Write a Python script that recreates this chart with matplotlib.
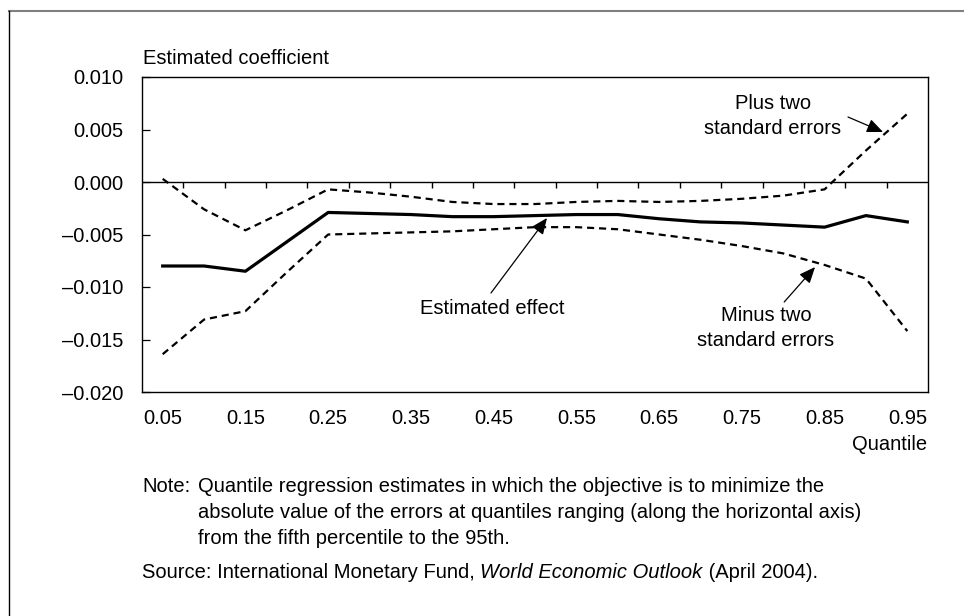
import numpy as np
import matplotlib
matplotlib.use('Agg')
import matplotlib.pyplot as plt
from matplotlib.lines import Line2D
from matplotlib.transforms import offset_copy

plt.rcParams['font.family'] = ['Liberation Sans', 'DejaVu Sans']
FS = 14.5

quantiles = [0.05, 0.10, 0.15, 0.20, 0.25, 0.30, 0.35, 0.40, 0.45, 0.50,
             0.55, 0.60, 0.65, 0.70, 0.75, 0.80, 0.85, 0.90, 0.95]
effect = [-0.0080, -0.0080, -0.0085, -0.0057, -0.0029, -0.0030, -0.0031, -0.0033, -0.0033, -0.0032,
          -0.0031, -0.0031, -0.0035, -0.0038, -0.0039, -0.0041, -0.0043, -0.0032, -0.0038]
plus_two = [0.0003, -0.0026, -0.0046, -0.0027, -0.0007, -0.0010, -0.0014, -0.0019, -0.0021, -0.0021,
            -0.0019, -0.0018, -0.0019, -0.0018, -0.0016, -0.0013, -0.0007, 0.0030, 0.0065]
minus_two = [-0.0164, -0.0131, -0.0123, -0.0086, -0.0050, -0.0049, -0.0048, -0.0047, -0.0045, -0.0043,
             -0.0043, -0.0045, -0.0050, -0.0055, -0.0061, -0.0068, -0.0079, -0.0092, -0.0142]
x_labels = ['0.05', '0.15', '0.25', '0.35', '0.45', '0.55', '0.65', '0.75', '0.85', '0.95']
y_ticks = [0.010, 0.005, 0.000, -0.005, -0.010, -0.015, -0.020]

fig = plt.figure(figsize=(9.64, 6.16), dpi=100)
ax = fig.add_axes([142 / 964, 224 / 616, 786 / 964, 315 / 616])

q = np.array(quantiles)
ax.plot(q, effect, color='black', lw=2.3, solid_joinstyle='round')
for series in (plus_two, minus_two):
    ax.plot(q, series, color='black', lw=1.6, dashes=(3.2, 2.2))

# zero line with category boundary ticks
ax.axhline(0, color='black', lw=1.0)
bounds = (q[:-1] + q[1:]) / 2
ax.vlines(bounds, -0.0006, 0, color='black', lw=1.0)

ax.set_xlim(0.025, 0.975)
ax.set_ylim(-0.020, 0.010)
ax.set_xticks(q[::2])
ax.set_xticklabels(x_labels, fontsize=FS)
ax.tick_params(axis='x', length=0, pad=12)
ax.set_yticks(y_ticks)
ax.set_yticklabels([f'{v:.3f}'.replace('-', '\u2013') if v != 0 else '0.000' for v in y_ticks],
                   fontsize=FS)
ax.tick_params(axis='y', direction='in', length=5.5, width=0.9, pad=13.5)
for s in ax.spines.values():
    s.set_linewidth(1.0)

# annotations
ax.text(0.7877, 0.0063, 'Plus two\nstandard errors', ha='center', va='center',
        fontsize=FS, linespacing=1.42)
ax.text(0.448, -0.0120, 'Estimated effect', ha='center', va='center', fontsize=FS)
ax.text(0.7792, -0.0139, 'Minus two\nstandard errors', ha='center', va='center',
        fontsize=FS, linespacing=1.42)
arrow = dict(arrowstyle='-|>,head_length=0.7,head_width=0.3', color='black',
             lw=0.9, mutation_scale=14, shrinkA=0, shrinkB=0)
ax.annotate('', xy=(0.9207, 0.00476), xytext=(0.8783, 0.00619), arrowprops=arrow)
ax.annotate('', xy=(0.5145, -0.00343), xytext=(0.4468, -0.01057), arrowprops=arrow)
ax.annotate('', xy=(0.8385, -0.0081), xytext=(0.8012, -0.01143), arrowprops=arrow)

# labels and notes
H = 616
fig.text(143 / 964, 1 - 58 / H, 'Estimated coefficient', fontsize=FS, va='center')
fig.text(927 / 964, 1 - 445 / H, 'Quantile', fontsize=FS, va='center', ha='right')
fig.text(142 / 964, 1 - 486 / H, 'Note:', fontsize=FS, va='center')
fig.text(198 / 964, 1 - 486 / H,
         'Quantile regression estimates in which the objective is to minimize the',
         fontsize=FS, va='center')
fig.text(198 / 964, 1 - 512 / H,
         'absolute value of the errors at quantiles ranging (along the horizontal axis)',
         fontsize=FS, va='center')
fig.text(198 / 964, 1 - 538 / H, 'from the fifth percentile to the 95th.',
         fontsize=FS, va='center')

# source line with italic title, pieces placed one after another
renderer = fig.canvas.get_renderer()
x_px = 142
for piece, style in [('Source: International Monetary Fund, ', 'normal'),
                     ('World Economic Outlook', 'italic'),
                     (' (April 2004).', 'normal')]:
    t = fig.text(x_px / 964, 1 - 573 / H, piece, fontsize=FS, va='center', style=style)
    x_px = t.get_window_extent(renderer).x1

# outer frame (top and left edges visible)
fig.add_artist(Line2D([9.3 / 964, 1], [1 - 10.5 / H, 1 - 10.5 / H],
                      transform=fig.transFigure, color='#808080', lw=1.5))
fig.add_artist(Line2D([9.3 / 964, 9.3 / 964], [0, 1 - 10.5 / H],
                      transform=fig.transFigure, color='black', lw=1.0))

fig.savefig('out.png', dpi=100)
